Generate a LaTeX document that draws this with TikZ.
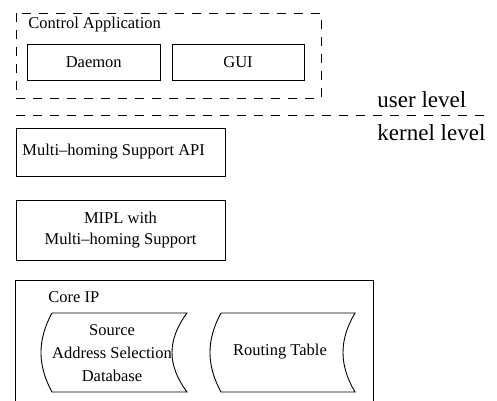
\documentclass[tikz,border=0pt]{standalone}
\usepackage{fontspec}
\setmainfont{Liberation Serif}
\begin{document}
\begin{tikzpicture}[x=1pt,y=-1pt,
  line width=0.9pt,
  boxtxt/.style={font=\fontsize{16.5}{21}\selectfont},
  bigtxt/.style={font=\fontsize{23}{26}\selectfont, inner sep=0pt, anchor=west},
  solidbox/.style={draw, boxtxt, inner sep=0pt, align=center},
  dashbox/.style={draw, dash pattern=on 9pt off 8pt},
  lbl/.style={boxtxt, inner sep=0pt, anchor=west},
  tapetxt/.style={boxtxt, align=center, inner sep=0pt}]
\useasboundingbox (0,0) rectangle (497,400);

% user level region
\draw[dashbox] (16,13) rectangle (321,98);
\node[lbl] (ctrl) at (28,25) {Control Application};
\node[solidbox, minimum width=132.5pt, minimum height=36pt] (daemon) at (93.75,62) {Daemon};
\node[solidbox, minimum width=132pt, minimum height=36pt] (gui) at (238,62) {GUI};

% level separator
\coordinate (sepL) at (16,115);
\coordinate (sepR) at (486,115);
\draw[dash pattern=on 9pt off 8pt] (sepL) -- (sepR);
\node[bigtxt] (user) at (377,100) {user level};
\node[bigtxt] (kernel) at (377,133) {kernel level};

% kernel blocks
\node[draw, boxtxt, minimum width=209pt, minimum height=48pt] (api) at (120.5,152) {};
\node[lbl] (apitxt) at (22,152) {Multi--homing Support API};
\node[solidbox, minimum width=209pt, minimum height=60pt, font=\fontsize{16.5}{20.5}\selectfont] (mipl) at (120.5,230) {MIPL with\\Multi--homing Support};

% core IP
\draw (15,403) -- (15,280) -- (373,280) -- (373,403);
\node[lbl] (core) at (48,297) {Core IP};

% tapes
\draw (52,313) -- (187,313) .. controls (167,340) and (167,365) .. (187,392)
      -- (52,392) .. controls (37.3,365) and (37.3,340) .. (52,313);
\node[tapetxt, font=\fontsize{16.5}{23}\selectfont] (sasd) at (112,353) {Source\\Address Selection\\Database};

\draw (221,313) -- (355,313) .. controls (339,340) and (339,365) .. (355,392)
      -- (221,392) .. controls (206.3,365) and (206.3,340) .. (221,313);
\node[tapetxt] (rt) at (280,352) {Routing Table};
\end{tikzpicture}
\end{document}
